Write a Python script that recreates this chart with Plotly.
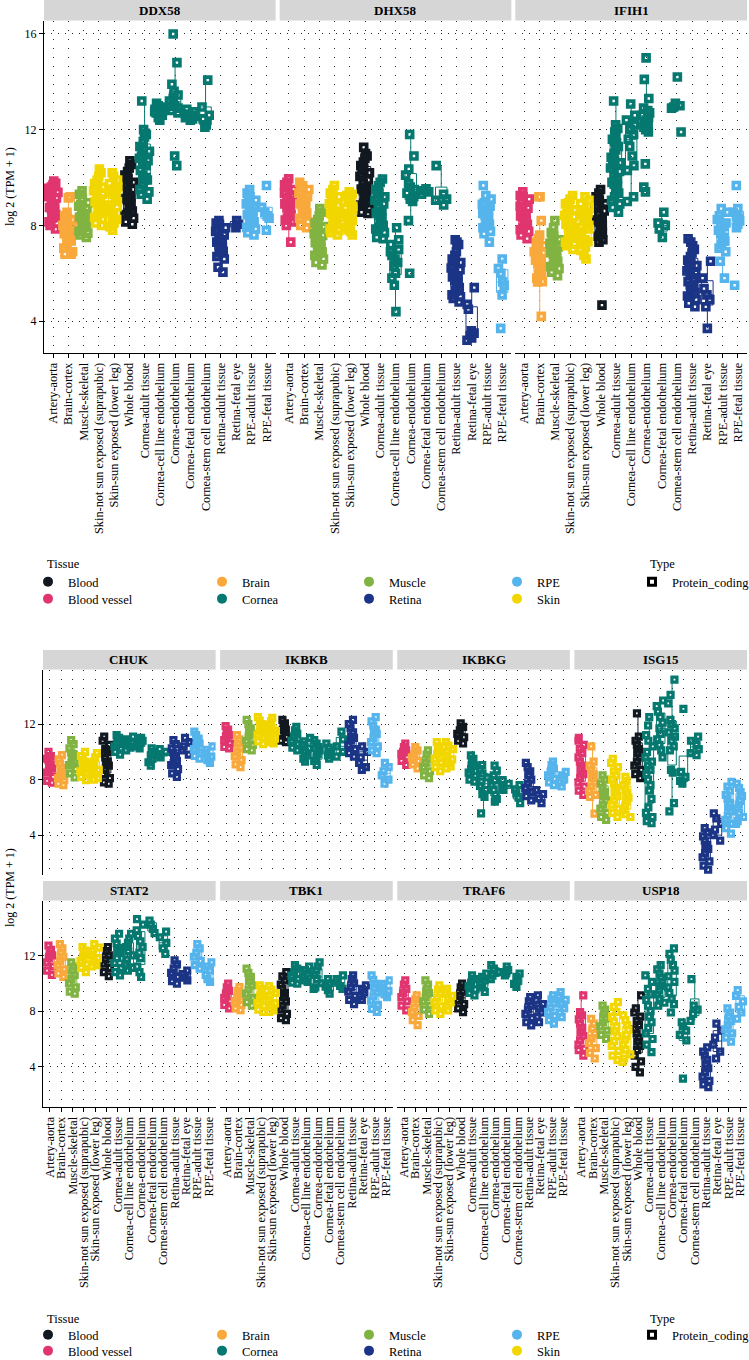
import plotly.graph_objects as go

W, H = 749, 1360
FONT = "Liberation Serif"

CATEGORIES = ["Artery-aorta", "Brain-cortex", "Muscle-skeletal",
              "Skin-not sun exposed (suprapubic)", "Skin-sun exposed (lower leg)",
              "Whole blood", "Cornea-adult tissue", "Cornea-cell line endothelium",
              "Cornea-endothelium", "Cornea-fetal endothelium",
              "Cornea-stem cell endothelium", "Retina-adult tissue", "Retina-fetal eye",
              "RPE-adult tissue", "RPE-fetal tissue"]
CATEGORY_TISSUE = ["Blood vessel", "Brain", "Muscle", "Skin", "Skin", "Blood",
                   "Cornea", "Cornea", "Cornea", "Cornea", "Cornea",
                   "Retina", "Retina", "RPE", "RPE"]
TISSUE_COLORS = {"Blood": "#111820", "Blood vessel": "#E0356F", "Brain": "#F9A93B",
                 "Cornea": "#05786F", "Muscle": "#80B342", "Retina": "#1B3485",
                 "RPE": "#55B4EC", "Skin": "#F2D600"}
LEGEND_COLUMNS = [["Blood", "Blood vessel"], ["Brain", "Cornea"],
                  ["Muscle", "Retina"], ["RPE", "Skin"]]
TOP_GENES = ["DDX58", "DHX58", "IFIH1"]
BOTTOM_GENES = ["CHUK", "IKBKB", "IKBKG", "ISG15", "STAT2", "TBK1", "TRAF6", "USP18"]
Y_TICKS = [4, 8, 12, 16]
Y_TITLE = "log 2 (TPM + 1)"

DDX58 = [
    [9.85, 9.7, 9.55, 9.45, 9.3, 9.15, 9.0, 8.9, 8.75, 8.6, 8.45, 8.3, 8.15, 8.0, 7.85, 9.6, 9.2, 8.7, 9.38, 8.52, 8.08, 9.76],
    [9.2, 9.15, 8.55, 8.4, 8.25, 8.1, 7.95, 7.8, 7.65, 7.5, 7.35, 7.2, 7.05, 6.9, 6.8, 6.8, 8.0, 7.6, 7.42, 7.88, 8.32],
    [9.45, 9.3, 9.1, 8.95, 8.8, 8.65, 8.5, 8.35, 8.2, 8.05, 7.9, 7.75, 7.6, 7.5, 8.7, 8.3, 8.88, 8.12, 7.68],
    [10.35, 10.2, 10.05, 9.9, 9.75, 9.6, 9.45, 9.3, 9.15, 9.0, 8.85, 8.7, 8.55, 8.4, 8.25, 8.1, 8.0, 9.5, 9.1, 9.68, 8.92, 8.33],
    [10.2, 10.05, 9.9, 9.75, 9.6, 9.45, 9.3, 9.15, 9.0, 8.85, 8.7, 8.55, 8.4, 8.25, 8.1, 7.95, 7.8, 9.4, 9.52, 8.78, 8.18],
    [10.7, 10.55, 10.4, 10.25, 10.1, 9.95, 9.8, 9.65, 9.5, 9.35, 9.2, 9.05, 8.9, 8.75, 8.6, 8.45, 8.3, 8.15, 8.05, 9.72, 9.12, 8.52],
    [13.2, 12.0, 11.85, 11.7, 11.5, 11.3, 11.1, 10.9, 10.7, 10.5, 10.3, 10.1, 9.9, 9.7, 9.5, 9.3, 9.1, 11.8, 10.8, 9.9, 11.2, 10.6, 10.0, 9.4],
    [13.1, 13.0, 12.9, 12.85, 12.8, 12.75, 12.7, 12.6, 12.5, 12.4, 12.65, 12.95],
    [16.0, 14.8, 13.9, 13.6, 13.45, 13.3, 13.2, 13.1, 13.0, 12.9, 12.8, 12.7, 10.9, 10.5],
    [12.85, 12.75, 12.65, 12.6, 12.55, 12.5, 12.45, 12.4],
    [14.07, 12.95, 12.6, 12.45, 12.2, 12.1],
    [8.2, 8.05, 7.9, 7.75, 7.6, 7.45, 7.3, 7.15, 7.0, 6.85, 6.7, 6.6, 6.25, 6.05, 8.1, 7.4, 7.82, 7.08, 6.92],
    [8.2, 8.05, 7.9],
    [9.5, 9.35, 9.2, 9.05, 8.9, 8.75, 8.6, 8.45, 8.3, 8.15, 8.0, 7.85, 7.7, 7.6, 9.0, 8.2, 8.68, 8.38, 7.92],
    [9.67, 8.76, 8.55, 8.4, 8.3, 7.8],
]
DHX58 = [
    [9.95, 9.8, 9.65, 9.5, 9.35, 9.2, 9.05, 8.9, 8.75, 8.6, 8.45, 8.3, 8.15, 8.0, 7.3, 9.7, 9.1, 8.68, 9.42, 8.22],
    [9.8, 9.65, 9.5, 9.35, 9.2, 9.05, 8.9, 8.75, 8.6, 8.45, 8.3, 8.15, 8.0, 7.9, 9.4, 8.8, 8.52, 9.12],
    [8.7, 8.55, 8.4, 8.25, 8.1, 7.95, 7.8, 7.65, 7.5, 7.35, 7.2, 7.05, 6.9, 6.75, 6.6, 6.45, 6.35, 8.0, 7.0, 7.58, 6.82, 7.28],
    [9.67, 9.5, 9.35, 9.2, 9.05, 8.9, 8.75, 8.6, 8.45, 8.3, 8.15, 8.0, 7.85, 7.7, 7.6, 9.2, 8.5, 8.82, 8.08, 7.78],
    [9.4, 9.25, 9.1, 8.95, 8.8, 8.65, 8.5, 8.35, 8.2, 8.05, 7.9, 7.75, 7.6, 9.3, 8.3, 8.72, 8.12, 7.82],
    [11.26, 11.0, 10.9, 10.8, 10.65, 10.5, 10.35, 10.2, 10.05, 9.9, 9.75, 9.6, 9.45, 9.3, 9.15, 9.0, 8.85, 8.7, 8.55, 8.5, 10.12, 9.52, 8.92],
    [9.94, 9.8, 9.65, 9.5, 9.35, 9.2, 9.05, 8.9, 8.75, 8.6, 8.45, 8.3, 8.15, 8.0, 7.85, 7.7, 7.5, 7.45, 9.12, 8.52, 7.92],
    [7.9, 7.4, 7.2, 7.0, 6.9, 6.75, 6.6, 6.45, 6.3, 6.0, 5.8, 5.5, 4.4],
    [11.8, 10.9, 10.36, 10.1, 9.75, 9.6, 9.5, 9.35, 9.2, 9.1, 9.0, 8.2, 6.0],
    [9.53, 9.45, 9.4, 9.3],
    [10.5, 9.3, 9.1, 9.05, 8.85],
    [7.4, 7.3, 7.2, 6.9, 6.75, 6.6, 6.45, 6.3, 6.15, 6.0, 5.85, 5.7, 5.55, 5.4, 5.25, 5.1, 4.95, 4.8, 6.5, 5.9, 6.22, 5.62, 5.02],
    [5.4, 4.7, 4.5, 3.6, 3.5, 3.4, 3.3, 3.2],
    [9.67, 9.25, 9.1, 8.95, 8.8, 8.65, 8.5, 8.35, 8.2, 8.05, 7.9, 7.75, 7.65, 7.3, 8.7, 8.42, 8.88, 7.98],
    [6.6, 6.2, 6.0, 5.64, 5.5, 5.1, 3.7],
]
IFIH1 = [
    [9.4, 9.25, 9.1, 8.95, 8.8, 8.65, 8.5, 8.35, 8.2, 8.05, 7.9, 7.75, 7.6, 7.45, 9.2, 8.4, 8.72, 8.12, 7.82],
    [9.2, 9.2, 8.2, 7.6, 7.45, 7.3, 7.15, 7.0, 6.85, 6.7, 6.55, 6.4, 6.25, 6.1, 5.95, 5.8, 5.65, 5.64, 4.2, 6.9, 6.62, 7.22, 6.02],
    [8.2, 7.9, 7.7, 7.55, 7.4, 7.25, 7.1, 6.95, 6.8, 6.65, 6.5, 6.35, 6.2, 6.05, 5.9, 7.0, 6.6, 6.88, 6.28, 7.32],
    [9.25, 9.1, 8.95, 8.8, 8.65, 8.5, 8.35, 8.2, 8.05, 7.9, 7.75, 7.6, 7.45, 7.3, 7.15, 7.0, 8.9, 8.1, 8.42, 7.82, 7.22],
    [9.2, 9.05, 8.9, 8.75, 8.6, 8.45, 8.3, 8.15, 8.0, 7.85, 7.7, 7.55, 7.4, 7.25, 7.1, 6.95, 6.75, 6.6, 8.52, 7.92, 7.32],
    [9.5, 9.35, 9.2, 9.05, 8.9, 8.75, 8.6, 8.45, 8.3, 8.15, 8.0, 7.85, 7.7, 7.55, 7.4, 7.3, 4.67, 8.82, 8.22, 7.62],
    [13.2, 12.2, 12.05, 11.9, 11.75, 11.6, 11.45, 11.3, 11.15, 11.0, 10.85, 10.7, 10.55, 10.4, 10.25,
     10.1, 9.95, 9.8, 9.65, 9.5, 9.35, 9.2, 9.05, 8.9, 8.75, 8.55, 11.52, 10.62, 9.72],
    [13.07, 12.6, 12.4, 12.2, 12.0, 11.8, 11.6, 11.3, 10.9, 10.5, 10.3, 9.2, 9.0],
    [15.0, 14.1, 13.3, 12.9, 12.8, 12.7, 12.6, 12.5, 12.4, 12.3, 12.2, 12.1, 12.0, 11.9, 10.57, 9.6, 9.4],
    [8.55, 8.1, 8.0, 7.85, 7.5],
    [14.2, 13.1, 13.0, 12.95, 12.9, 11.9],
    [7.44, 7.3, 7.15, 7.0, 6.85, 6.7, 6.55, 6.4, 6.25, 6.1, 5.95, 5.8, 5.65, 5.5, 5.35, 5.2, 5.05, 4.9, 4.75, 4.6, 6.0, 5.5, 6.32, 5.12],
    [6.5, 5.8, 5.36, 5.1, 4.9, 4.6, 3.7],
    [8.7, 8.55, 8.4, 8.25, 8.1, 7.95, 7.8, 7.65, 7.5, 7.35, 7.2, 7.05, 6.9, 6.5, 5.8, 8.02, 7.42],
    [9.67, 8.7, 8.55, 8.4, 8.3, 8.2, 8.05, 7.9, 5.5],
]
CHUK = [
    [10.0, 9.7, 9.4, 9.1, 8.8, 8.5, 8.2, 7.9, 7.77, 9.5, 8.6, 8.95],
    [9.76, 9.45, 9.15, 8.85, 8.55, 8.25, 7.95, 7.7, 7.6, 8.4, 8.1],
    [10.85, 10.55, 10.25, 9.95, 9.65, 9.35, 9.05, 8.75, 8.45, 8.15, 9.8, 9.2],
    [10.0, 9.7, 9.4, 9.1, 8.8, 8.5, 8.2, 7.96, 9.3, 8.6, 8.95],
    [9.9, 9.6, 9.3, 9.0, 8.7, 8.4, 8.1, 8.0, 9.2, 8.55],
    [11.1, 10.8, 10.5, 10.2, 9.9, 9.6, 9.3, 9.0, 8.7, 8.4, 8.1, 7.8, 7.7, 10.0, 9.2],
    [11.2, 11.0, 10.8, 10.6, 10.4, 10.2, 10.0, 9.8, 10.7],
    [11.1, 10.9, 10.7, 10.5, 10.3, 10.1, 10.6],
    [11.0, 10.8, 10.6, 10.4, 10.25, 10.7],
    [10.25, 10.0, 9.75, 9.5, 9.25, 9.0],
    [10.2, 10.0, 9.8, 9.6],
    [10.85, 10.55, 10.25, 9.95, 9.65, 9.35, 9.05, 8.75, 8.45, 8.2, 9.7, 9.2],
    [11.0, 10.7, 10.4, 10.1, 9.8],
    [11.45, 11.2, 10.95, 10.7, 10.45, 10.2, 9.95, 9.7, 9.5, 10.6],
    [10.4, 10.15, 9.9, 9.65, 9.4, 9.2],
]
IKBKB = [
    [11.85, 11.6, 11.35, 11.1, 10.85, 10.6, 10.35, 10.25, 11.2],
    [11.2, 10.9, 10.6, 10.3, 10.0, 9.7, 9.4, 9.1, 8.9],
    [12.3, 12.0, 11.7, 11.4, 11.1, 10.8, 10.5, 10.2, 10.1, 11.3],
    [12.5, 12.25, 12.0, 11.75, 11.5, 11.25, 11.0, 10.75, 10.55, 11.6],
    [12.45, 12.2, 11.95, 11.7, 11.45, 11.2, 10.95, 10.7, 10.6, 11.5],
    [12.3, 12.05, 11.8, 11.55, 11.3, 11.05, 10.8, 10.7, 11.6],
    [11.8, 11.55, 11.3, 11.05, 10.8, 10.55, 10.3, 10.1],
    [11.0, 10.75, 10.5, 10.25, 10.0, 9.75, 9.5, 9.3],
    [10.85, 10.6, 10.35, 10.1, 9.85, 9.6, 9.35, 9.05],
    [10.6, 10.3, 10.0, 9.75, 9.5],
    [11.45, 10.9, 10.4, 10.0, 9.65],
    [12.3, 12.0, 11.7, 11.4, 11.1, 10.8, 10.5, 10.2, 9.9, 9.65, 11.0],
    [10.4, 10.0, 9.6, 9.2, 8.9, 8.7],
    [12.5, 12.2, 11.9, 11.6, 11.3, 11.0, 10.7, 10.4, 10.1, 9.9, 11.5],
    [9.2, 8.9, 8.6, 8.3, 8.0, 7.7],
]
IKBKG = [
    [10.6, 10.35, 10.1, 9.85, 9.6, 9.35, 9.05, 10.0],
    [10.35, 10.1, 9.85, 9.6, 9.35, 9.1, 8.8],
    [10.1, 9.8, 9.5, 9.2, 8.9, 8.6, 8.3, 8.1],
    [10.7, 10.4, 10.1, 9.8, 9.5, 9.2, 8.9, 8.6, 10.0],
    [10.7, 10.45, 10.2, 9.95, 9.7, 9.45, 9.2, 8.95, 8.8],
    [12.05, 11.8, 11.55, 11.3, 11.05, 10.8, 10.6],
    [9.75, 9.5, 9.25, 9.0, 8.75, 8.5, 8.25, 8.0, 7.85],
    [9.05, 8.75, 8.45, 8.15, 7.85, 7.55, 7.25, 6.95, 6.75, 5.56],
    [9.0, 8.65, 8.3, 7.95, 7.6, 7.25, 6.9, 6.6, 6.4],
    [7.96, 7.7, 7.45, 7.25],
    [7.6, 7.3, 7.0, 6.7, 6.3],
    [9.2, 8.9, 8.6, 8.3, 8.0, 7.7, 7.4, 7.1, 6.8, 6.5],
    [7.25, 6.95, 6.65, 6.3],
    [9.3, 9.05, 8.8, 8.55, 8.3, 8.05, 7.8, 7.6],
    [8.55, 8.3, 8.05, 7.8, 7.5],
]
ISG15 = [
    [11.0, 10.8, 10.5, 10.2, 9.9, 9.6, 9.3, 9.0, 8.7, 8.4, 8.1, 7.8, 7.5, 7.2, 6.9],
    [10.4, 9.3, 9.0, 8.7, 8.4, 8.1, 7.8, 7.5, 7.2, 6.9, 6.75, 5.55],
    [8.3, 8.0, 7.7, 7.4, 7.1, 6.8, 6.5, 6.2, 5.9, 5.6, 5.3, 5.1],
    [9.5, 9.2, 8.9, 8.6, 8.3, 8.0, 7.7, 7.4, 7.1, 6.8, 6.5, 6.2, 5.9, 5.6, 5.3],
    [8.2, 7.9, 7.6, 7.3, 7.0, 6.7, 6.4, 6.1, 5.8, 5.5, 5.3],
    [12.77, 11.1, 10.8, 10.5, 10.2, 9.9, 9.6, 9.3, 9.0, 8.7, 8.4, 8.1],
    [12.5, 11.9, 11.2, 10.8, 10.4, 10.0, 9.6, 9.3, 9.0, 8.7, 8.4, 8.0, 7.6, 7.2, 6.6, 6.0, 5.6, 5.3, 5.0, 4.85],
    [13.7, 13.3, 12.9, 12.5, 12.1, 11.7, 11.3, 10.9, 10.5, 10.1, 9.6],
    [15.2, 14.1, 13.5, 12.3, 12.0, 11.7, 11.4, 11.1, 10.8, 10.4, 10.1, 8.7, 8.5, 6.3, 5.7],
    [13.1, 8.56, 8.2, 7.9, 7.7],
    [11.1, 10.8, 10.5, 10.2, 9.9, 9.76],
    [4.5, 4.2, 3.9, 3.6, 3.3, 3.0, 2.7, 2.4, 2.1, 1.8, 1.5, 3.2],
    [5.56, 5.2, 4.8, 4.4, 4.0, 3.6],
    [7.84, 7.5, 7.2, 6.9, 6.6, 6.3, 6.0, 5.7, 5.4, 5.1, 4.8, 4.5, 4.1],
    [7.7, 7.4, 7.1, 6.8, 6.5, 6.2, 5.9, 5.6, 5.3, 5.0, 4.8],
]
STAT2 = [
    [12.7, 12.4, 12.1, 11.8, 11.5, 11.2, 10.9, 10.6, 12.0],
    [12.8, 12.5, 12.2, 11.9, 11.6, 11.3, 11.0, 10.7, 10.45],
    [11.5, 11.2, 10.9, 10.6, 10.3, 10.0, 9.7, 9.4, 9.25],
    [12.6, 12.35, 12.1, 11.85, 11.6, 11.35, 11.1, 10.8, 12.0],
    [12.8, 12.55, 12.3, 12.05, 11.8, 11.55, 11.3, 11.2],
    [12.6, 12.3, 12.0, 11.7, 11.4, 11.1, 10.8, 10.5],
    [13.55, 13.2, 12.85, 12.5, 12.15, 11.8, 11.45, 11.1, 10.8, 10.57, 12.3],
    [13.55, 13.2, 12.9, 12.6, 12.3, 12.0, 11.7, 11.4, 11.1, 10.9],
    [14.6, 14.2, 13.8, 13.4, 13.0, 12.6, 12.2, 11.8, 11.2, 10.8, 10.45],
    [14.5, 14.2, 13.9, 13.6],
    [13.7, 13.3, 12.9, 12.5, 12.1],
    [11.64, 11.35, 11.05, 10.75, 10.45, 10.15, 9.97],
    [10.9, 10.65, 10.4, 10.2],
    [12.8, 12.5, 12.2, 11.9, 11.6, 11.3, 11.05],
    [11.5, 11.2, 10.9, 10.6, 10.3, 10.1],
]
TBK1 = [
    [9.97, 9.7, 9.45, 9.2, 8.95, 8.7, 8.45, 8.2],
    [9.73, 9.45, 9.2, 8.95, 8.7, 8.45, 8.2, 8.06],
    [11.05, 10.75, 10.45, 10.15, 9.85, 9.55, 9.25, 8.95, 8.65, 8.4],
    [9.85, 9.6, 9.35, 9.1, 8.85, 8.6, 8.35, 8.1, 7.94],
    [9.8, 9.55, 9.3, 9.05, 8.8, 8.55, 8.3, 8.05, 7.95],
    [10.8, 10.5, 10.2, 9.9, 9.6, 9.3, 9.0, 8.7, 8.4, 8.1, 7.8, 7.5, 7.35],
    [11.3, 11.05, 10.8, 10.55, 10.3, 10.05, 9.97],
    [11.2, 10.95, 10.7, 10.45, 10.2, 10.1],
    [11.5, 11.2, 10.9, 10.6, 10.3, 10.0, 9.7, 9.6],
    [10.3, 10.0, 9.75, 9.5, 9.25],
    [10.56, 10.3, 10.05, 9.8, 9.6],
    [10.56, 10.3, 10.0, 9.7, 9.4, 9.1, 8.8, 8.5],
    [9.85, 9.6, 9.35, 9.05, 8.8],
    [10.56, 10.25, 9.95, 9.65, 9.35, 9.05, 8.75, 8.45, 8.15, 7.94],
    [10.2, 9.95, 9.7, 9.45, 9.2, 9.0],
]
TRAF6 = [
    [10.2, 9.9, 9.6, 9.3, 9.0, 8.7, 8.4, 8.05],
    [9.13, 8.85, 8.55, 8.25, 7.95, 7.65, 7.35, 7.0],
    [10.2, 9.9, 9.6, 9.3, 9.0, 8.7, 8.4, 8.1, 7.8],
    [9.85, 9.55, 9.25, 8.95, 8.65, 8.35, 8.05, 7.8],
    [9.6, 9.35, 9.1, 8.85, 8.6, 8.35, 8.05],
    [9.97, 9.7, 9.4, 9.1, 8.8, 8.5, 8.2, 7.93],
    [10.56, 10.3, 10.05, 9.8, 9.55, 9.3, 9.13],
    [10.7, 10.45, 10.2, 9.95, 9.7, 9.37],
    [11.3, 11.05, 10.8, 10.55, 10.3],
    [11.2, 10.95, 10.7, 10.56],
    [10.7, 10.45, 10.2, 9.95, 9.73],
    [9.0, 8.7, 8.4, 8.1, 7.8, 7.5, 7.2, 6.98],
    [9.13, 8.8, 8.5, 8.2, 7.9, 7.6, 7.2],
    [9.13, 8.85, 8.55, 8.25, 7.95, 7.65, 7.35, 7.1],
    [9.37, 9.1, 8.8, 8.5, 8.2, 7.9, 7.57],
]
USP18 = [
    [9.13, 7.93, 7.7, 7.4, 7.1, 6.8, 6.5, 6.2, 5.9, 5.6, 5.3, 5.2, 4.8],
    [7.45, 7.1, 6.75, 6.4, 6.05, 5.7, 5.35, 5.0, 4.6],
    [8.4, 8.1, 7.8, 7.5, 7.2, 6.9, 6.6, 6.3, 6.0],
    [8.65, 8.3, 7.95, 7.6, 7.25, 6.9, 6.55, 6.2, 5.85, 5.5, 5.15, 4.8, 4.5],
    [7.7, 7.35, 7.0, 6.65, 6.3, 5.95, 5.6, 5.25, 4.9, 4.6, 4.35],
    [9.13, 8.2, 7.9, 7.6, 7.3, 7.0, 6.7, 6.4, 6.1, 5.8, 5.5, 5.2, 4.8, 4.4, 4.0, 3.6],
    [10.56, 10.1, 9.6, 9.2, 8.8, 8.4, 8.0, 7.6, 7.2, 6.8, 6.4, 6.0, 5.6, 5.06],
    [11.3, 11.0, 10.7, 10.4, 10.1, 9.8, 9.5, 9.2, 8.9, 8.6, 8.4],
    [12.5, 12.1, 11.7, 11.3, 10.9, 10.5, 10.1, 9.7, 9.3, 8.9, 8.5, 7.9],
    [7.2, 6.9, 6.6, 6.3, 5.9, 3.15],
    [10.3, 8.4, 8.1, 7.8, 7.3],
    [5.4, 5.1, 4.8, 4.5, 4.2, 3.9, 3.6, 3.3, 3.0, 2.75, 2.55],
    [7.1, 6.6, 6.1, 5.6, 5.1, 4.6],
    [8.2, 7.9, 7.6, 7.3, 7.0, 6.7, 6.4, 6.1, 5.8],
    [9.5, 9.1, 8.7, 8.3, 7.9, 7.45],
]

GENE_VALUES = {"DDX58": DDX58, "DHX58": DHX58, "IFIH1": IFIH1, "CHUK": CHUK,
               "IKBKB": IKBKB, "IKBKG": IKBKG, "ISG15": ISG15, "STAT2": STAT2,
               "TBK1": TBK1, "TRAF6": TRAF6, "USP18": USP18}

# ---------------- layout geometry (pixels) ----------------
def fx(px):
    return px / W


def fy(py):
    return 1 - py / H


panels = []
top_w = (747 - 44 - 8) / 3
for i, g in enumerate(TOP_GENES):
    x0 = 44 + i * (top_w + 4)
    panels.append(dict(gene=g, x0=x0, x1=x0 + top_w, y0=21, y1=353, s0=0, s1=20.5,
                       yr=[2.67, 16.54], labels=True, xline=True, first=(i == 0),
                       msize=6, mline=3.6, tsize=12.3))
bot_w = (747 - 43 - 13.5) / 4
for k, g in enumerate(BOTTOM_GENES):
    r, c = divmod(k, 4)
    x0 = 43 + c * (bot_w + 4.5)
    if r == 0:
        y0, y1, s0, s1 = 670, 875, 650, 669.5
    else:
        y0, y1, s0, s1 = 901, 1107, 881, 900.5
    panels.append(dict(gene=g, x0=x0, x1=x0 + bot_w, y0=y0, y1=y1, s0=s0, s1=s1,
                       yr=[1.12, 15.9], labels=(r == 1), xline=(r == 1), first=(c == 0),
                       msize=5, mline=3.2, tsize=12.3))

fig = go.Figure()
shapes = []
annotations = []
layout_axes = {}

for n, p in enumerate(panels, start=1):
    xa = "x" if n == 1 else f"x{n}"
    ya = "y" if n == 1 else f"y{n}"
    vals = GENE_VALUES[p["gene"]]
    for tissue in TISSUE_COLORS:
        xs, ys = [], []
        for ci, cat in enumerate(CATEGORIES):
            if CATEGORY_TISSUE[ci] == tissue:
                xs += [cat] * len(vals[ci])
                ys += vals[ci]
        col = TISSUE_COLORS[tissue]
        fig.add_trace(go.Box(
            x=xs, y=ys, xaxis=xa, yaxis=ya, name=tissue, showlegend=False,
            boxpoints="all", jitter=1.0, pointpos=0, width=0.75, whiskerwidth=0,
            fillcolor="rgba(255,255,255,0)", line=dict(color=col, width=1),
            marker=dict(symbol="square-open", size=p["msize"], color=col,
                        line=dict(color=col, width=p["mline"])),
            hoverinfo="skip"))

    layout_axes["xaxis" if n == 1 else f"xaxis{n}"] = dict(
        domain=[fx(p["x0"]), fx(p["x1"])], anchor=ya, type="category",
        categoryorder="array", categoryarray=CATEGORIES, range=[-0.6, 14.6],
        tickmode="array", tickvals=CATEGORIES, ticktext=CATEGORIES,
        showline=p["xline"], linecolor="black", linewidth=1,
        ticks="outside" if p["xline"] else "", ticklen=4, tickcolor="black",
        showticklabels=p["labels"], tickangle=-90,
        tickfont=dict(family=FONT, size=p["tsize"], color="black"),
        showgrid=True, gridcolor="#2a2a2a", gridwidth=1, griddash="1px,8px",
        zeroline=False, fixedrange=True)
    layout_axes["yaxis" if n == 1 else f"yaxis{n}"] = dict(
        domain=[fy(p["y1"]), fy(p["y0"])], anchor=xa, range=p["yr"],
        tickvals=Y_TICKS, showline=p["first"], linecolor="black", linewidth=1,
        ticks="outside" if p["first"] else "", ticklen=4, tickcolor="black",
        showticklabels=p["first"], tickfont=dict(family=FONT, size=12, color="black"),
        showgrid=True, gridcolor="#2a2a2a", gridwidth=1, griddash="1px,6px",
        zeroline=False, fixedrange=True)

    shapes.append(dict(type="rect", xref="paper", yref="paper",
                       x0=fx(p["x0"]), x1=fx(p["x1"]), y0=fy(p["s1"]), y1=fy(p["s0"]),
                       fillcolor="#D6D6D6", line=dict(width=0), layer="below"))
    annotations.append(dict(text=f"<b>{p['gene']}</b>", xref="paper", yref="paper",
                            x=fx((p["x0"] + p["x1"]) / 2), y=fy((p["s0"] + p["s1"]) / 2),
                            xanchor="center", yanchor="middle", showarrow=False,
                            font=dict(family=FONT, size=13, color="black")))

# y-axis titles
for yc in (187, 888):
    annotations.append(dict(text=Y_TITLE, xref="paper", yref="paper", x=fx(10), y=fy(yc),
                            xanchor="center", yanchor="middle", textangle=-90,
                            showarrow=False, font=dict(family=FONT, size=12, color="black")))

# legends: one legend per entry so rows can be placed exactly
legend_layout = {}
col_x = [48, 222, 369, 517]
leg_idx = 0


def add_legend_entry(name, marker, xc, yc):
    global leg_idx
    leg_idx += 1
    lname = "legend" if leg_idx == 1 else f"legend{leg_idx}"
    fig.add_trace(go.Scatter(x=[None], y=[None], mode="markers", name=name, legend=lname,
                             marker=marker, showlegend=True, hoverinfo="skip"))
    legend_layout[lname] = dict(
        x=fx(xc - 20), y=fy(yc), xanchor="left", yanchor="middle",
        orientation="v", bgcolor="rgba(0,0,0,0)", borderwidth=0,
        font=dict(family=FONT, size=12.5, color="black"))


for title_y, rows in [(564, (582, 599)), (1319, (1335, 1351))]:
    for ci, names in enumerate(LEGEND_COLUMNS):
        for ri, nm in enumerate(names):
            add_legend_entry(nm, dict(symbol="circle", size=10, color=TISSUE_COLORS[nm]),
                             col_x[ci], rows[ri])
    add_legend_entry("Protein_coding",
                     dict(symbol="square-open", size=7, color="black",
                          line=dict(color="black", width=3)),
                     652, rows[0])
    annotations.append(dict(text="Tissue", xref="paper", yref="paper", x=fx(45), y=fy(title_y),
                            xanchor="left", yanchor="middle", showarrow=False,
                            font=dict(family=FONT, size=12.5, color="black")))
    annotations.append(dict(text="Type", xref="paper", yref="paper", x=fx(648), y=fy(title_y),
                            xanchor="left", yanchor="middle", showarrow=False,
                            font=dict(family=FONT, size=12.5, color="black")))

fig.update_layout(
    width=W, height=H, margin=dict(l=0, r=0, t=0, b=0, autoexpand=False),
    paper_bgcolor="white", plot_bgcolor="white", boxmode="overlay",
    font=dict(family=FONT, size=11, color="black"),
    shapes=shapes, annotations=annotations, **layout_axes, **legend_layout)

fig.write_html("out.html", config={"displayModeBar": False},
               post_script="document.body.style.margin='0';document.body.style.overflow='hidden';")
